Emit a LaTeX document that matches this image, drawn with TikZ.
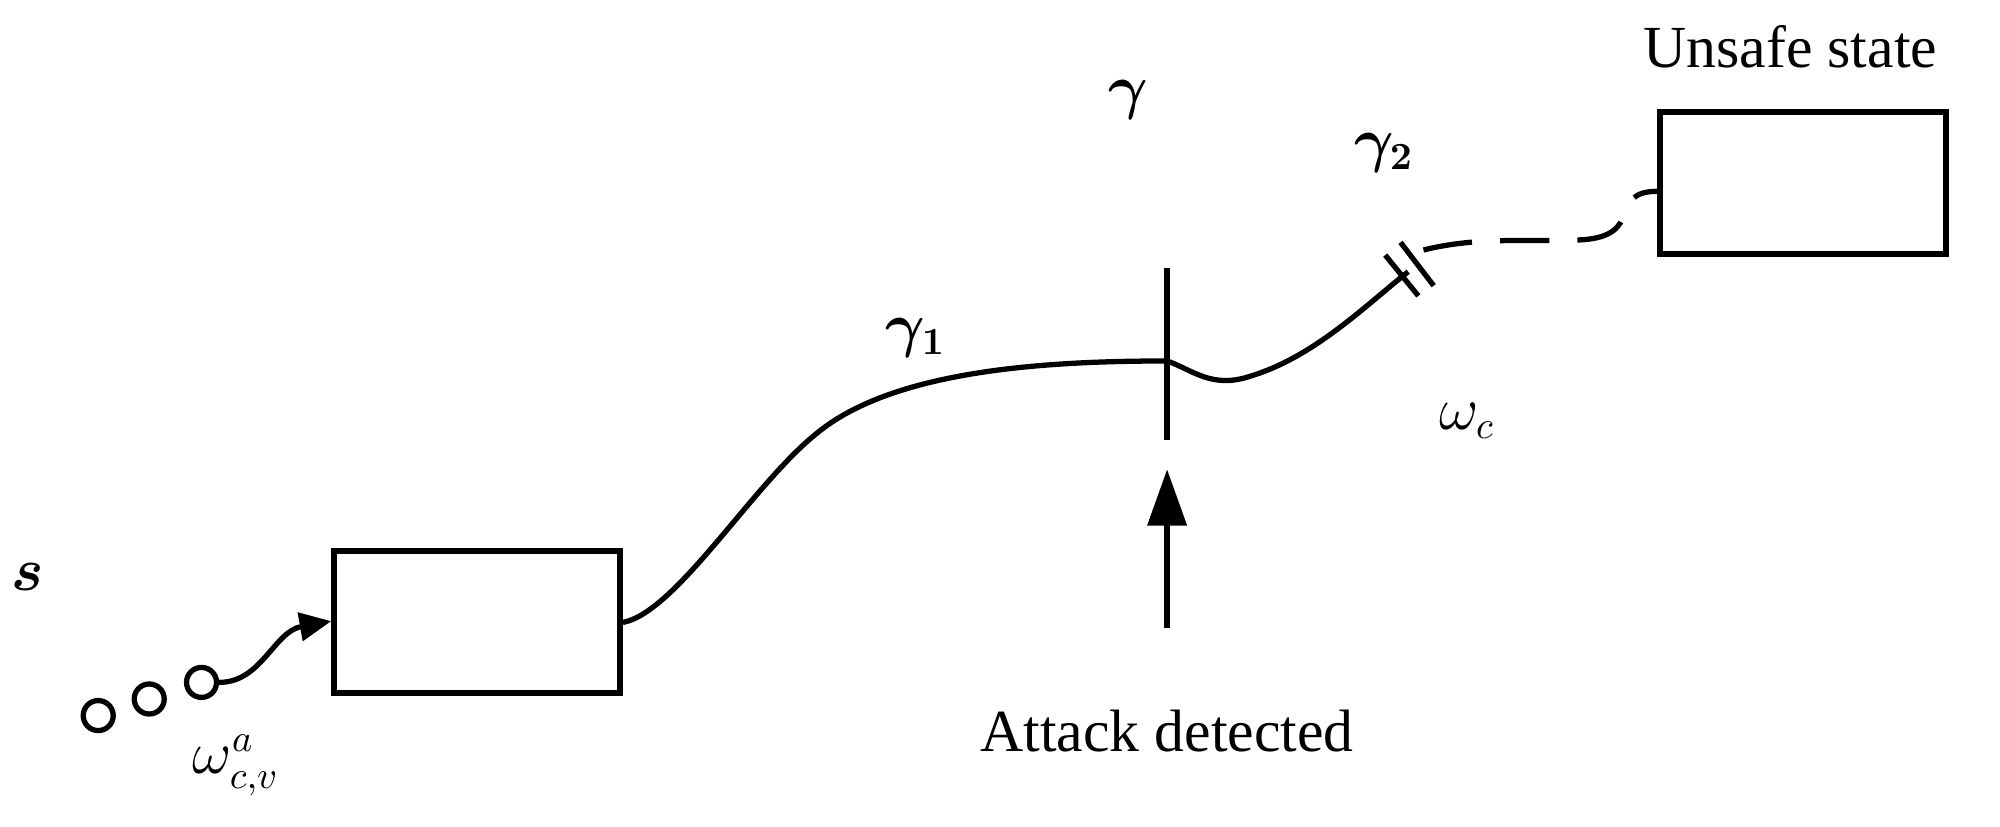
\documentclass[tikz,border=0pt]{standalone}
\usepackage{fontspec}
\setmainfont{Liberation Serif}
\usepackage{amsmath,bm}
\usetikzlibrary{arrows.meta}
\begin{document}
\begin{tikzpicture}[x=0.012755cm,y=-0.012755cm,line width=1.5pt,
  box/.style={draw,line width=1.6pt,minimum width=2.86cm,minimum height=1.42cm,inner sep=0},
  lab/.style={font=\fontsize{16}{18}\selectfont},
  circ/.style={draw,circle,minimum size=0.3cm,inner sep=0,line width=1.5pt}]
\useasboundingbox (0,0) rectangle (1568,648);
\node[box] (b1) at (374,487.5) {};
\node[box] (b2) at (1413.5,143.5) {};
\node[circ] (c1) at (77,561) {};
\node[circ] (c2) at (117,548) {};
\node[circ] (c3) at (158,535) {};
\draw[-{Triangle[length=9pt,width=8pt]}] (c3.east) .. controls (205,535) and (215,495) .. (b1.west |- 0,487);
\coordinate (m) at (915,283);
\coordinate (d) at (1104,213);
\draw (b1.east |- 0,488) .. controls (530,480) and (590,380) .. (640,340) .. controls (700,290) and (820,283) .. (m)
  .. controls (935,290) and (950,305) .. (980,295) .. controls (1030,280) and (1070,240) .. (d);
\draw (915,210) -- (915,345);
\coordinate (at) at (915,492);
\coordinate (ah) at (915,368);
\draw[-{Triangle[length=16pt,width=11pt]}] (at) -- (ah);
\draw (1086,200) -- (1112,232);
\draw (1098,190) -- (1124,224);
\draw[dashed,dash pattern=on 14pt off 8pt] (1116,196) .. controls (1160,185) and (1200,190) .. (1240,188) .. controls (1290,185) and (1260,150) .. (b2.west |- 0,150);
\node[lab] (s) at (22,452) {$\bm{s}$};
\node[lab] (w) at (185,600) {$\omega^{a}_{c,v}$};
\node[lab] (g) at (885,78) {$\bm{\gamma}$};
\node[lab] (g1) at (718,265) {$\bm{\gamma_1}$};
\node[lab] (g2) at (1085,120) {$\bm{\gamma_2}$};
\node[lab] (wc) at (1150,330) {$\omega_c$};
\node[lab,font=\fontsize{17}{20}\selectfont] (ad) at (915,573) {Attack detected};
\node[lab,font=\fontsize{17}{20}\selectfont,anchor=east] (us) at (1530,37) {Unsafe state};
\end{tikzpicture}
\end{document}
